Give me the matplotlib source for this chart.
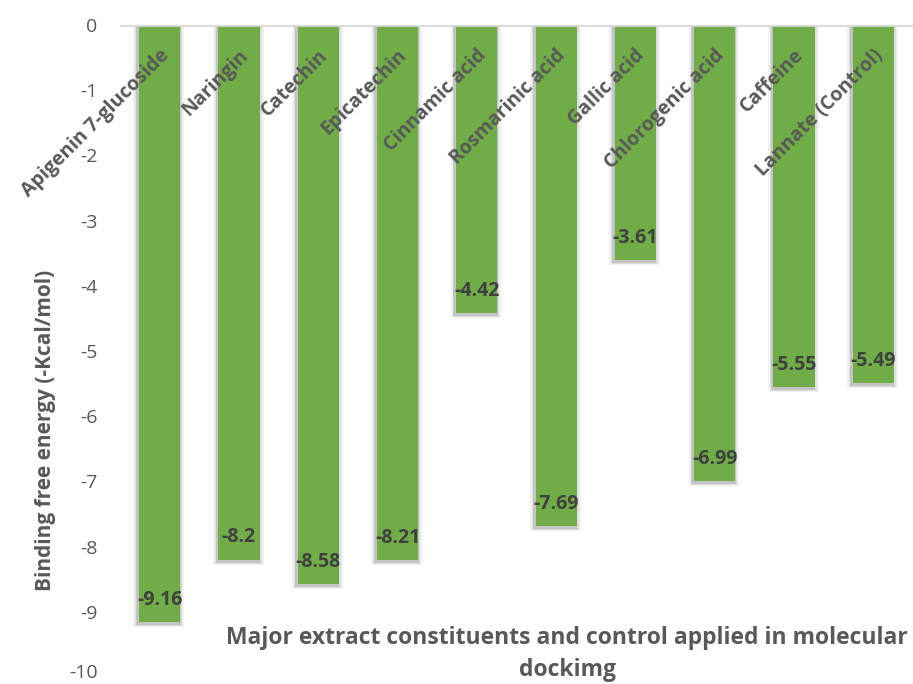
import matplotlib
matplotlib.use("Agg")
import matplotlib.pyplot as plt
from matplotlib.transforms import ScaledTranslation
import numpy as np

compounds = ["Apigenin 7-glucoside", "Naringin", "Catechin", "Epicatechin",
             "Cinnamic acid", "Rosmarinic acid", "Gallic acid",
             "Chlorogenic acid", "Caffeine", "Lannate (Control)"]
binding_energy = [-9.16, -8.2, -8.58, -8.21, -4.42, -7.69, -3.61, -6.99, -5.55, -5.49]
y_ticks = [0, -1, -2, -3, -4, -5, -6, -7, -8, -9, -10]

plt.rcParams['font.family'] = ['Open Sans', 'DejaVu Sans']

fig = plt.figure(figsize=(9.13, 6.84), dpi=100)
ax = fig.add_axes([0.1314, 1 - 677 / 684, 1 - 0.1314, (677 - 25) / 684])

x = np.arange(len(compounds))
vals = np.array(binding_energy)
bw = 0.52
px = 1 / 65.2  # one pixel in y data units

# soft shadow behind each bar
ax.bar(x - 0.01, vals - 5 * px, width=bw + 0.12, color='#f1f1f1', zorder=1)
ax.bar(x - 0.01, vals - 4 * px, width=bw + 0.07, color='#dedede', zorder=1.2)
ax.bar(x - 0.015, vals - 3 * px, width=bw + 0.04, color='#c4c4c4', zorder=1.4)
ax.bar(x, vals, width=bw, color='#70AD47', zorder=2)

ax.axhline(0, color='#d9d9d9', lw=2, zorder=3)

for xi, v, name in zip(x, vals, compounds):
    ax.text(xi, v + 0.34, f"{v:g}", ha='center', va='center', fontsize=14,
            fontweight='bold', color='#404040', zorder=4)
    ax.text(xi + 0.08, -0.42, name, rotation=45, rotation_mode='anchor',
            ha='right', va='center', fontsize=14, fontweight='bold',
            color='#595959', zorder=4)

ax.set_xlim(-0.5, len(compounds) - 0.5)
ax.set_ylim(-10, 0)
ax.set_yticks(y_ticks)
ax.set_yticklabels([str(t) for t in y_ticks])
ax.set_xticks([])
ax.tick_params(axis='y', length=0, pad=16, labelsize=14, labelcolor='#595959')
for s in ax.spines.values():
    s.set_visible(False)

# keep the lowest tick label inside the canvas
bottom_lab = ax.get_yticklabels()[-1]
bottom_lab.set_transform(bottom_lab.get_transform() +
                         ScaledTranslation(0, 4 / 72, fig.dpi_scale_trans))

fig.text(45 / 913, 1 - 430 / 684, "Binding free energy (-Kcal/mol)", rotation=90,
         ha='center', va='center', fontsize=15, fontweight='bold', color='#595959')
fig.text(567 / 913, 1 - 638 / 684, "Major extract constituents and control applied in molecular",
         ha='center', va='center', fontsize=16.5, fontweight='bold', color='#595959')
fig.text(567 / 913, 1 - 670 / 684, "dockimg",
         ha='center', va='center', fontsize=16.5, fontweight='bold', color='#595959')

fig.savefig("out.png", dpi=100)
